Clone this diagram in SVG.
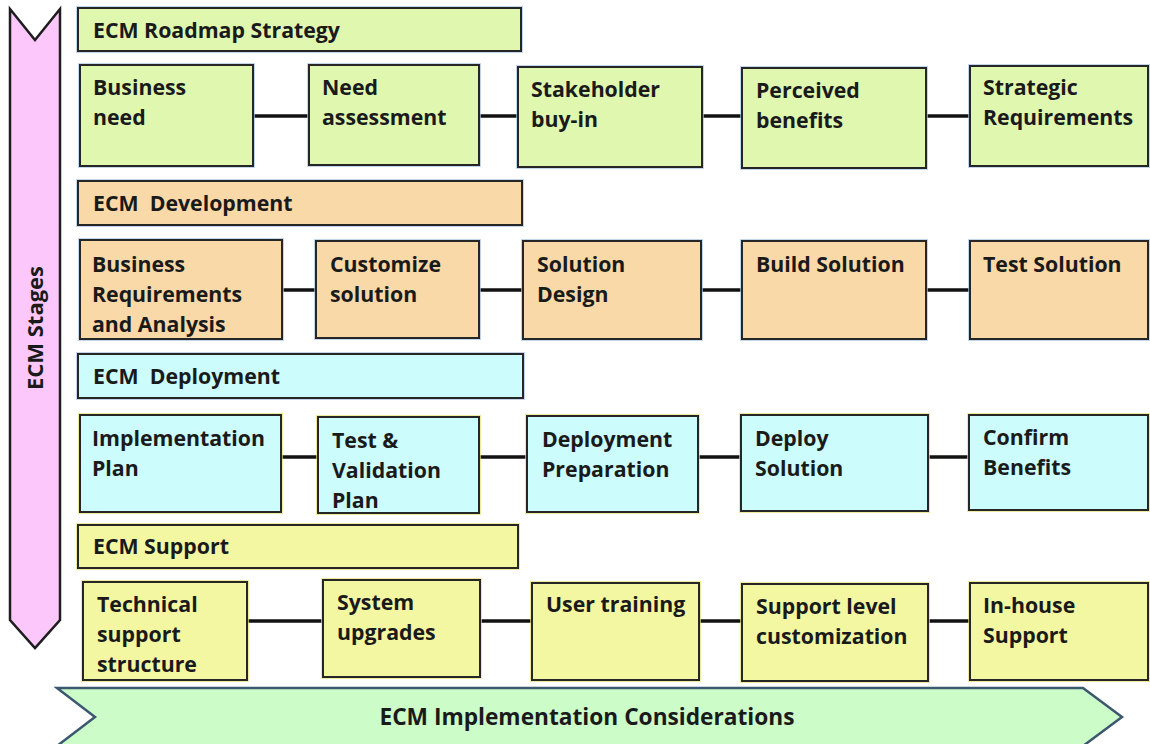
<svg xmlns="http://www.w3.org/2000/svg" width="1150" height="744" viewBox="0 0 1150 744">
  <style>
    text { font-family: "Open Sans", "Liberation Sans", sans-serif; font-weight: bold; font-size: 21.3px; fill: #1a1a1a; }
    text.side { font-size: 22px; }
    text.base { font-size: 22.7px; }
    .box { stroke: #262626; stroke-width: 2; }
    .glow-b { stroke: #a9c4e0; stroke-width: 4; fill: none; opacity: 0.7; }
    .glow-y { stroke: #e8e070; stroke-width: 4; fill: none; opacity: 0.7; }
    .green { fill: #e0f7b0; }
    .tan { fill: #f9d9a8; }
    .cyan { fill: #ccfcfc; }
    .yellow { fill: #f3f7a2; }
    .conn line { stroke: #111; stroke-width: 3.5; }
  </style>

  <!-- vertical stage arrow -->
  <g id="stages">
    <polygon points="10,9 35,40 60,9 60,620 35,648 10,620" fill="#fcc8fc" stroke="#1e1e1e" stroke-width="2.5" stroke-linejoin="miter"/>
    <text class="side" transform="translate(43,328) rotate(-90)" text-anchor="middle">ECM Stages</text>
  </g>

  <!-- horizontal considerations arrow -->
  <g id="considerations">
    <polygon points="57,688 1083,688 1122,717 1083,746 57,746 95,717" fill="#ccfcc8" stroke="#3b5870" stroke-width="2.5"/>
    <text class="base" x="587" y="725" text-anchor="middle">ECM Implementation Considerations</text>
  </g>

  <!-- connectors -->
  <g id="connectors" class="conn">
    <line x1="253" y1="116" x2="309" y2="116"/>
    <line x1="479" y1="116" x2="518" y2="116"/>
    <line x1="702" y1="116" x2="742" y2="116"/>
    <line x1="926" y1="116" x2="970" y2="116"/>

    <line x1="282" y1="290" x2="316" y2="290"/>
    <line x1="479" y1="290" x2="523" y2="290"/>
    <line x1="701" y1="290" x2="742" y2="290"/>
    <line x1="926" y1="290" x2="970" y2="290"/>

    <line x1="281" y1="457" x2="318" y2="457"/>
    <line x1="479" y1="457" x2="527" y2="457"/>
    <line x1="698" y1="457" x2="741" y2="457"/>
    <line x1="928" y1="457" x2="969" y2="457"/>

    <line x1="247" y1="621" x2="323" y2="621"/>
    <line x1="480" y1="621" x2="532" y2="621"/>
    <line x1="699" y1="621" x2="742" y2="621"/>
    <line x1="928" y1="621" x2="970" y2="621"/>
  </g>

  <!-- ECM Roadmap Strategy -->
  <g id="roadmap-header">
    <rect x="78" y="8" width="443" height="43" class="glow-b"/>
    <rect x="78" y="8" width="443" height="43" class="box green"/>
    <text x="93" y="38">ECM Roadmap Strategy</text>
  </g>
  <g id="business-need">
    <rect x="80" y="65" width="173" height="101" class="glow-b"/>
    <rect x="80" y="65" width="173" height="101" class="box green"/>
    <text x="93" y="95">Business</text><text x="93" y="125">need</text>
  </g>
  <g id="need-assessment">
    <rect x="309" y="65" width="170" height="100" class="glow-b"/>
    <rect x="309" y="65" width="170" height="100" class="box green"/>
    <text x="322" y="95">Need</text><text x="322" y="125">assessment</text>
  </g>
  <g id="stakeholder-buy-in">
    <rect x="518" y="67" width="184" height="100" class="glow-b"/>
    <rect x="518" y="67" width="184" height="100" class="box green"/>
    <text x="531" y="97">Stakeholder</text><text x="531" y="127">buy-in</text>
  </g>
  <g id="perceived-benefits">
    <rect x="742" y="68" width="184" height="100" class="glow-b"/>
    <rect x="742" y="68" width="184" height="100" class="box green"/>
    <text x="756" y="98">Perceived</text><text x="756" y="128">benefits</text>
  </g>
  <g id="strategic-requirements">
    <rect x="970" y="66" width="178" height="100" class="glow-b"/>
    <rect x="970" y="66" width="178" height="100" class="box green"/>
    <text x="983" y="95">Strategic</text><text x="983" y="125">Requirements</text>
  </g>

  <!-- ECM Development -->
  <g id="development-header">
    <rect x="78" y="181" width="444" height="44" class="glow-b"/>
    <rect x="78" y="181" width="444" height="44" class="box tan"/>
    <text x="93" y="211">ECM&#160; Development</text>
  </g>
  <g id="business-requirements">
    <rect x="80" y="240" width="202" height="99" class="glow-b"/>
    <rect x="80" y="240" width="202" height="99" class="box tan"/>
    <text x="92" y="272">Business</text><text x="92" y="302">Requirements</text><text x="92" y="332">and Analysis</text>
  </g>
  <g id="customize-solution">
    <rect x="316" y="241" width="163" height="97" class="glow-b"/>
    <rect x="316" y="241" width="163" height="97" class="box tan"/>
    <text x="330" y="272">Customize</text><text x="330" y="302">solution</text>
  </g>
  <g id="solution-design">
    <rect x="523" y="241" width="178" height="98" class="glow-b"/>
    <rect x="523" y="241" width="178" height="98" class="box tan"/>
    <text x="537" y="272">Solution</text><text x="537" y="302">Design</text>
  </g>
  <g id="build-solution">
    <rect x="742" y="241" width="184" height="98" class="glow-b"/>
    <rect x="742" y="241" width="184" height="98" class="box tan"/>
    <text x="756" y="272">Build Solution</text>
  </g>
  <g id="test-solution">
    <rect x="970" y="241" width="178" height="98" class="glow-b"/>
    <rect x="970" y="241" width="178" height="98" class="box tan"/>
    <text x="983" y="272">Test Solution</text>
  </g>

  <!-- ECM Deployment -->
  <g id="deployment-header">
    <rect x="78" y="354" width="445" height="44" class="glow-b"/>
    <rect x="78" y="354" width="445" height="44" class="box cyan"/>
    <text x="93" y="384">ECM&#160; Deployment</text>
  </g>
  <g id="implementation-plan">
    <rect x="80" y="415" width="201" height="97" class="glow-y"/>
    <rect x="80" y="415" width="201" height="97" class="box cyan"/>
    <text x="92" y="446">Implementation</text><text x="92" y="476">Plan</text>
  </g>
  <g id="test-validation-plan">
    <rect x="318" y="417" width="161" height="96" class="glow-y"/>
    <rect x="318" y="417" width="161" height="96" class="box cyan"/>
    <text x="332" y="448">Test &amp;</text><text x="332" y="478">Validation</text><text x="332" y="508">Plan</text>
  </g>
  <g id="deployment-preparation">
    <rect x="527" y="416" width="171" height="96" class="glow-y"/>
    <rect x="527" y="416" width="171" height="96" class="box cyan"/>
    <text x="542" y="447">Deployment</text><text x="542" y="477">Preparation</text>
  </g>
  <g id="deploy-solution">
    <rect x="741" y="415" width="187" height="96" class="glow-y"/>
    <rect x="741" y="415" width="187" height="96" class="box cyan"/>
    <text x="755" y="446">Deploy</text><text x="755" y="476">Solution</text>
  </g>
  <g id="confirm-benefits">
    <rect x="969" y="415" width="179" height="95" class="glow-y"/>
    <rect x="969" y="415" width="179" height="95" class="box cyan"/>
    <text x="983" y="445">Confirm</text><text x="983" y="475">Benefits</text>
  </g>

  <!-- ECM Support -->
  <g id="support-header">
    <rect x="78" y="525" width="440" height="43" class="glow-y"/>
    <rect x="78" y="525" width="440" height="43" class="box yellow"/>
    <text x="93" y="554">ECM Support</text>
  </g>
  <g id="technical-support">
    <rect x="83" y="582" width="164" height="98" class="glow-y"/>
    <rect x="83" y="582" width="164" height="98" class="box yellow"/>
    <text x="97" y="612">Technical</text><text x="97" y="642">support</text><text x="97" y="672">structure</text>
  </g>
  <g id="system-upgrades">
    <rect x="323" y="580" width="157" height="97" class="glow-y"/>
    <rect x="323" y="580" width="157" height="97" class="box yellow"/>
    <text x="337" y="610">System</text><text x="337" y="640">upgrades</text>
  </g>
  <g id="user-training">
    <rect x="532" y="583" width="167" height="97" class="glow-y"/>
    <rect x="532" y="583" width="167" height="97" class="box yellow"/>
    <text x="546" y="612">User training</text>
  </g>
  <g id="support-customization">
    <rect x="742" y="584" width="186" height="97" class="glow-y"/>
    <rect x="742" y="584" width="186" height="97" class="box yellow"/>
    <text x="756" y="614">Support level</text><text x="756" y="644">customization</text>
  </g>
  <g id="in-house-support">
    <rect x="970" y="583" width="178" height="97" class="glow-y"/>
    <rect x="970" y="583" width="178" height="97" class="box yellow"/>
    <text x="983" y="613">In-house</text><text x="983" y="643">Support</text>
  </g>
</svg>
